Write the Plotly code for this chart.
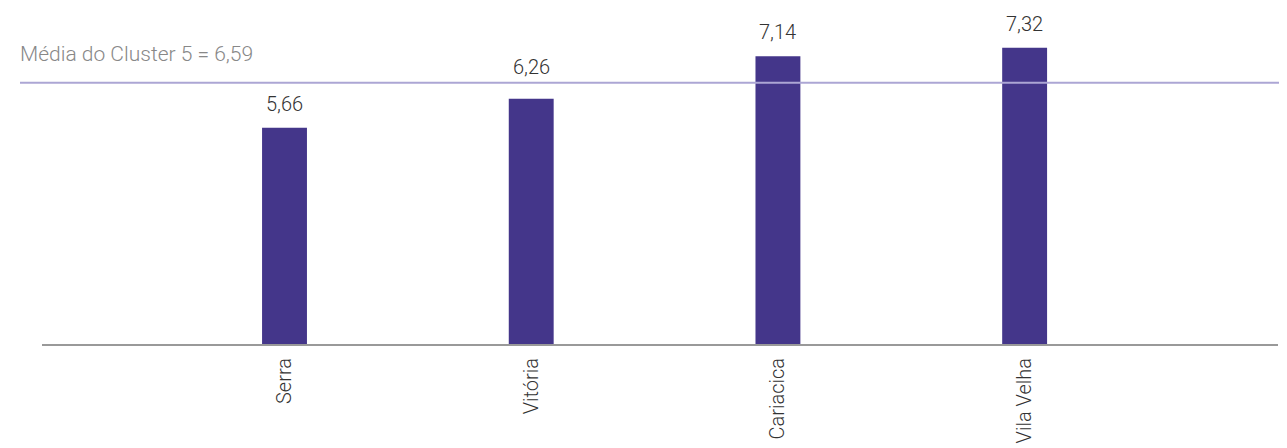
import plotly.graph_objects as go

categories = ["Serra", "Vitória", "Cariacica", "Vila Velha"]
values = [5.66, 6.26, 7.14, 7.32]
value_labels = ["5,66", "6,26", "7,14", "7,32"]
cluster_mean = 6.59
mean_label = "Média do Cluster 5 = 6,59"

BAR_COLOR = "#44368a"
LINE_COLOR = "#aca6d4"
FONT = "Roboto, 'Open Sans', sans-serif"

fig = go.Figure()
fig.add_trace(go.Bar(
    x=categories, y=values, marker_color=BAR_COLOR, marker_line_width=0,
    width=0.182, hoverinfo="skip",
))

# value labels: placed above bars, lifted above the mean line when they would cross it
LABEL_SPAN = 0.75  # approx label height in data units
for c, v, t in zip(categories, values, value_labels):
    if v < cluster_mean < v + LABEL_SPAN:
        y_anchor, shift = cluster_mean, 2
    else:
        y_anchor, shift = v, 10
    fig.add_annotation(x=c, y=y_anchor, text=t, showarrow=False, yanchor="bottom",
                       yshift=shift,
                       font=dict(family=FONT, size=20, color="#333333", weight=300))

fig.add_shape(type="line", xref="paper", yref="y", x0=-0.0178, x1=1.02,
              y0=cluster_mean, y1=cluster_mean,
              line=dict(color=LINE_COLOR, width=2))
fig.add_annotation(xref="paper", yref="y", x=-0.0195, y=cluster_mean,
                   text=mean_label, showarrow=False, xanchor="left",
                   yanchor="bottom", yshift=15,
                   font=dict(family=FONT, size=21, color="#888888", weight=300))

fig.update_layout(
    width=1279, height=440,
    margin=dict(l=34, r=9, t=0, b=104),
    paper_bgcolor="white", plot_bgcolor="white",
    showlegend=False,
    font=dict(family=FONT, size=20, color="#333333"),
    xaxis=dict(range=[-0.983, 4.027], showgrid=False, zeroline=False,
               showline=True, linecolor="#999999", linewidth=2,
               tickangle=-90, ticks="", ticklabelstandoff=4,
               tickfont=dict(family=FONT, size=20, color="#333333", weight=300)),
    yaxis=dict(range=[1.17, 8.144], visible=False, showgrid=False, zeroline=False),
)

fig.write_html("out.html")
